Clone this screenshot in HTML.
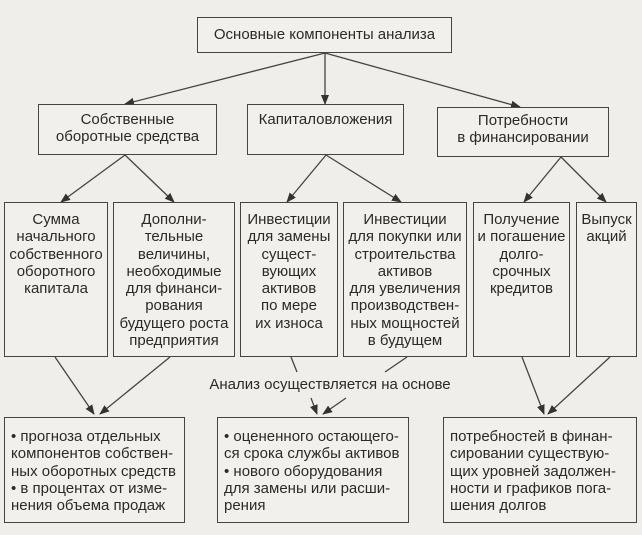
<!DOCTYPE html>
<html><head><meta charset="utf-8"><style>
html,body{margin:0;padding:0}
body{width:642px;height:535px;background:#efeeea;position:relative;overflow:hidden;font-family:"Liberation Sans Narrow","Liberation Sans",sans-serif;color:#2a2a2a;font-size:15px;}
.b{position:absolute;border:1.5px solid #444;box-sizing:border-box;text-align:center;line-height:17.3px;background:#f1f0ec}
.l{text-align:left;padding-left:6px}
svg{position:absolute;left:0;top:0}
</style></head><body>
<svg width="642" height="535">
<defs><marker id="a" markerWidth="10" markerHeight="10" refX="9" refY="5" orient="auto" markerUnits="userSpaceOnUse"><path d="M0,1 L10,5 L0,9 z" fill="#333"/></marker></defs>
<g stroke="#444" stroke-width="1.3" fill="none" marker-end="url(#a)">
<line x1="325" y1="53" x2="125" y2="104"/>
<line x1="325" y1="53" x2="325" y2="104"/>
<line x1="325" y1="53" x2="520" y2="107"/>
<line x1="125" y1="155" x2="61" y2="202"/>
<line x1="125" y1="155" x2="174" y2="202"/>
<line x1="326" y1="155" x2="287" y2="202"/>
<line x1="326" y1="155" x2="401" y2="202"/>
<line x1="561" y1="157" x2="524" y2="202"/>
<line x1="561" y1="157" x2="606" y2="202"/>
<line x1="55" y1="357" x2="94" y2="414"/>
<line x1="170" y1="357" x2="100" y2="414"/>
<line x1="311" y1="398" x2="317" y2="414"/>
<line x1="346" y1="398" x2="323" y2="414"/>
<line x1="522" y1="357" x2="544" y2="414"/>
<line x1="610" y1="357" x2="548" y2="414"/>
</g>
<g stroke="#444" stroke-width="1.3">
<line x1="291" y1="357" x2="297" y2="372"/>
<line x1="407" y1="357" x2="385" y2="372"/>
</g>
</svg>
<div class="b" style="left:197px;top:17px;width:255px;height:36px;line-height:34px">Основные компоненты анализа</div>
<div class="b" style="left:38px;top:104px;width:179px;height:51px;padding-top:6px">Собственные<br>оборотные средства</div>
<div class="b" style="left:247px;top:104px;width:157px;height:51px;padding-top:6px">Капиталовложения</div>
<div class="b" style="left:437px;top:107px;width:172px;height:50px;padding-top:4px">Потребности<br>в финансировании</div>
<div class="b" style="left:4px;top:202px;width:104px;height:155px;padding-top:8px">Сумма<br>начального<br>собственного<br>оборотного<br>капитала</div>
<div class="b" style="left:113px;top:202px;width:122px;height:155px;padding-top:8px">Дополни-<br>тельные<br>величины,<br>необходимые<br>для финанси-<br>рования<br>будущего роста<br>предприятия</div>
<div class="b" style="left:240px;top:202px;width:98px;height:155px;padding-top:8px">Инвестиции<br>для замены<br>сущест-<br>вующих<br>активов<br>по мере<br>их износа</div>
<div class="b" style="left:343px;top:202px;width:124px;height:155px;padding-top:8px">Инвестиции<br>для покупки или<br>строительства<br>активов<br>для увеличения<br>производствен-<br>ных мощностей<br>в будущем</div>
<div class="b" style="left:473px;top:202px;width:97px;height:155px;padding-top:8px">Получение<br>и погашение<br>долго-<br>срочных<br>кредитов</div>
<div class="b" style="left:576px;top:202px;width:61px;height:155px;padding-top:8px">Выпуск<br>акций</div>
<div style="position:absolute;left:195px;top:376px;width:270px;text-align:center">Анализ осуществляется на основе</div>
<div class="b l" style="left:4px;top:417px;width:181px;height:106px;padding-top:10px">• прогноза отдельных<br>компонентов собствен-<br>ных оборотных средств<br>• в процентах от изме-<br>нения объема продаж</div>
<div class="b l" style="left:217px;top:417px;width:192px;height:106px;padding-top:10px">• оцененного остающего-<br>ся срока службы активов<br>• нового оборудования<br>для замены или расши-<br>рения</div>
<div class="b l" style="left:443px;top:417px;width:194px;height:106px;padding-top:10px">потребностей в финан-<br>сировании существую-<br>щих уровней задолжен-<br>ности и графиков пога-<br>шения долгов</div>
</body></html>
